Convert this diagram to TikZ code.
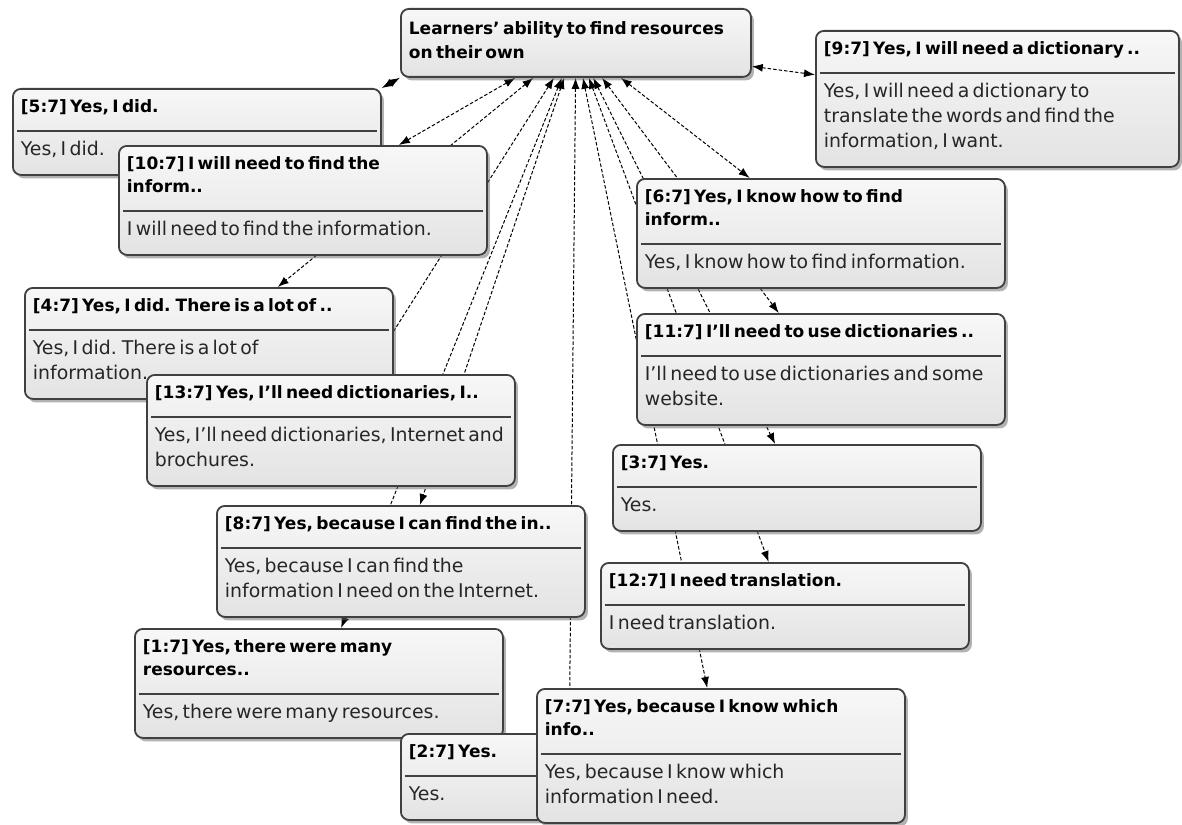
\documentclass[tikz,border=0pt]{standalone}
\usepackage{fontspec}
\setmainfont{DejaVu Sans}
\usetikzlibrary{arrows.meta,shadows}
\pgfdeclarelayer{links}
\pgfsetlayers{links,main}
\newcommand{\qhead}[1]{{\fontsize{17}{23}\selectfont\bfseries\raggedright\leftskip=4pt\rule{0pt}{24pt}#1\rule[-17pt]{0pt}{17pt}\par}{\color{black!75}\hrule height 2pt}}
\newcommand{\qbody}[1]{{\fontsize{18.9}{25}\selectfont\raggedright\leftskip=4pt\color{black!85}\rule{0pt}{24pt}#1\rule[-19pt]{0pt}{19pt}\par}}
\newcommand{\codehead}[1]{{\fontsize{17}{24}\selectfont\bfseries\raggedright\leftskip=4pt\rule{0pt}{26pt}#1\rule[-18pt]{0pt}{18pt}\par}}

\begin{document}
\begin{tikzpicture}[x=1pt,y=-1pt,
  qbox/.style={draw=black!75,line width=1.8pt,rounded corners=8pt,
    top color=black!3,bottom color=black!11,
    drop shadow={shadow xshift=3pt,shadow yshift=-3.5pt,opacity=.5,fill=black!60},
    anchor=north west,inner xsep=4pt,inner ysep=0pt,text width=360pt},
  link/.style={{Latex[length=11pt,width=8pt]}-{Latex[length=11pt,width=8pt]},
    dash pattern=on 3.5pt off 2pt,line width=1pt}]
  \useasboundingbox (0,0) rectangle (1182,824);
  \node[qbox,text width=342pt] (learn) at (400,8) {\codehead{Learners' ability to find resources\\on their own}};
  \node[qbox,text width=355pt] (q9) at (815,30) {\qhead{[9:7] Yes, I will need a dictionary ..}\qbody{Yes, I will need a dictionary to\\translate the words and find the\\information, I want.}};
  \node[qbox] (q5) at (12,88) {\qhead{[5:7] Yes, I did.}\qbody{Yes, I did.}};
  \node[qbox] (q10) at (118,145) {\qhead{[10:7] I will need to find the\\inform..}\qbody{I will need to find the information.}};
  \node[qbox] (q6) at (636,178) {\qhead{[6:7] Yes, I know how to find\\inform..}\qbody{Yes, I know how to find information.}};
  \node[qbox] (q4) at (24,287) {\qhead{[4:7] Yes, I did. There is a lot of ..}\qbody{Yes, I did. There is a lot of\\information.}};
  \node[qbox] (q11) at (636,313) {\qhead{[11:7] I'll need to use dictionaries ..}\qbody{I'll need to use dictionaries and some\\website.}};
  \node[qbox] (q13) at (146,374) {\qhead{[13:7] Yes, I'll need dictionaries, I..}\qbody{Yes, I'll need dictionaries, Internet and\\brochures.}};
  \node[qbox] (q3) at (612,444) {\qhead{[3:7] Yes.}\qbody{Yes.}};
  \node[qbox] (q8) at (216,505) {\qhead{[8:7] Yes, because I can find the in..}\qbody{Yes, because I can find the\\information I need on the Internet.}};
  \node[qbox] (q12) at (600,562) {\qhead{[12:7] I need translation.}\qbody{I need translation.}};
  \node[qbox] (q1) at (134,628) {\qhead{[1:7] Yes, there were many\\resources..}\qbody{Yes, there were many resources.}};
  \node[qbox,text width=328pt] (q2) at (400,733) {\qhead{[2:7] Yes.}\qbody{Yes.}};
  \node[qbox] (q7) at (536,688) {\qhead{[7:7] Yes, because I know which\\info..}\qbody{Yes, because I know which\\information I need.}};
  \begin{pgfonlayer}{links}
    \draw[link] (learn.south west) -- (q5.north east);
    \foreach \q in {q9,q10,q6,q4,q11,q13,q3,q8,q12,q1,q2,q7}
      \draw[link] (learn) -- (\q);
  \end{pgfonlayer}
\end{tikzpicture}
\end{document}
